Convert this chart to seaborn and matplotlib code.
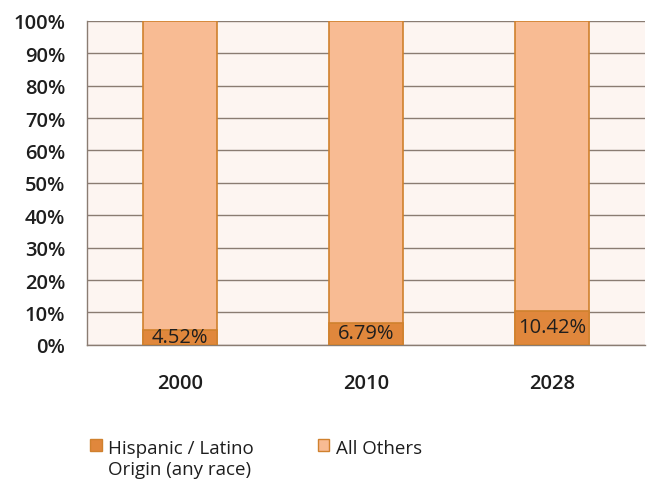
import matplotlib
matplotlib.use("Agg")
import matplotlib.pyplot as plt
from matplotlib.patches import Patch
import seaborn as sns
import pandas as pd

years = ["2000", "2010", "2028"]
hispanic = [4.52, 6.79, 10.42]
others = [100 - h for h in hispanic]
labels = ["4.52%", "6.79%", "10.42%"]
series_names = ["Hispanic / Latino\nOrigin (any race)", "All Others"]
yticks = list(range(0, 101, 10))

df = pd.DataFrame({"year": years, "hispanic": hispanic, "others": others})
df["total"] = df["hispanic"] + df["others"]

sns.set_theme(style="white")
plt.rcParams["font.family"] = ["Open Sans", "DejaVu Sans"]

dark = "#e0873c"
light = "#f8bb93"
edge = "#d0812e"
grid_c = "#8a7c72"
text_c = "#1e1e1e"
fs = 14.5

fig = plt.figure(figsize=(6.58, 4.85), dpi=100)
ax = fig.add_axes([0.132, 0.287, 0.848, 0.668])
ax.set_facecolor("#fdf5f1")

sns.barplot(data=df, x="year", y="total", color=light, width=0.4,
            edgecolor=edge, linewidth=1.2, saturation=1, ax=ax, zorder=3)
sns.barplot(data=df, x="year", y="hispanic", color=dark, width=0.4,
            edgecolor=edge, linewidth=1.2, saturation=1, ax=ax, zorder=4)

for i, (h, lab) in enumerate(zip(hispanic, labels)):
    ax.text(i, h / 2 + 0.3, lab, ha="center", va="center", fontsize=fs,
            color=text_c, zorder=5)

ax.set_ylim(0, 100)
ax.set_xlim(-0.5, 2.5)
ax.set_yticks(yticks)
ax.set_yticklabels([f"{t}%" for t in yticks], fontsize=fs, color=text_c)
ax.tick_params(axis="x", labelsize=fs, colors=text_c, length=0, pad=20)
ax.tick_params(axis="y", length=6.5, width=1, color=grid_c, direction="out", pad=9)
for lab in ax.get_xticklabels():
    lab.set_fontweight("semibold")
for lab in ax.get_yticklabels():
    lab.set_fontweight("semibold")
ax.set_xlabel("")
ax.set_ylabel("")
ax.yaxis.grid(True, color=grid_c, linewidth=1, zorder=1)
ax.set_axisbelow(True)
for s in ["top", "right"]:
    ax.spines[s].set_visible(False)
ax.spines["left"].set_color(grid_c)
ax.spines["bottom"].set_color(grid_c)
ax.spines["left"].set_linewidth(1)
ax.spines["bottom"].set_linewidth(1)
ax.set_xticks([0, 1, 2], minor=False)
ax.set_xticks([0.5, 1.5, 2.5], minor=True)
ax.tick_params(axis="x", which="minor", length=6.5, color=grid_c, direction="out")

handles = [Patch(facecolor=dark, edgecolor=edge), Patch(facecolor=light, edgecolor=edge)]
leg = fig.legend(handles, series_names, loc="upper left", bbox_to_anchor=(0.111, 0.128),
                 ncol=2, frameon=False, fontsize=13.5, handlelength=0.62, handleheight=0.62,
                 handletextpad=0.35, columnspacing=3.4, labelcolor=text_c)
# align the square markers and the columns with the first text line
leg._legend_handle_box.align = "top"
for col in leg._legend_handle_box.get_children():
    for item in col.get_children():
        item.align = "top"

fig.savefig("out.png", dpi=100, facecolor="white")
